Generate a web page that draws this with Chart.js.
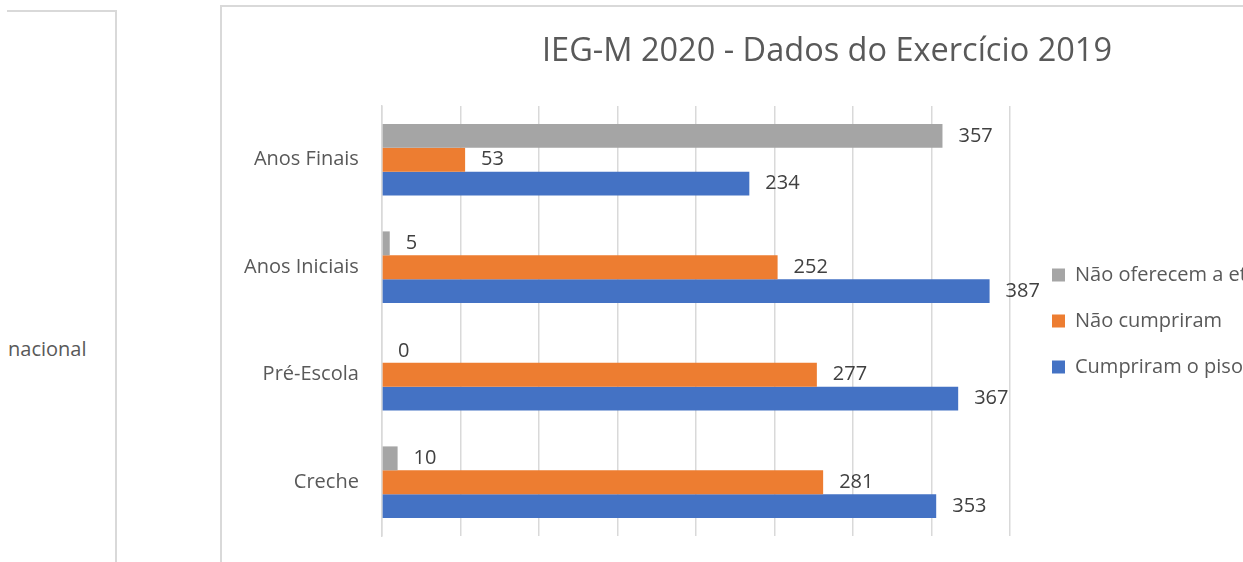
<!DOCTYPE html>
<html>
<head>
<meta charset="utf-8">
<title>IEG-M 2020 - Dados do Exercício 2019</title>
<script src="https://cdn.jsdelivr.net/npm/chart.js@4.4.1/dist/chart.umd.min.js"></script>
<style>
  html, body { margin: 0; padding: 0; background: #fff; overflow: hidden; width: 1243px; height: 562px; }
  #side { position: absolute; left: 7px; top: 10px; width: 108px; height: 600px; border-top: 2px solid #d9d9d9; border-right: 2px solid #d9d9d9; }
  #side span { position: absolute; left: 1px; top: 323px; font: 20px "Open Sans"; color: #595959; }
  #frame { position: absolute; left: 220px; top: 5px; width: 1300px; height: 700px; border-left: 2px solid #d9d9d9; border-top: 2px solid #d9d9d9; }
  #box { position: absolute; left: 200px; top: 7px; width: 1233px; height: 600px; }
</style>
</head>
<body>
<div id="side"><span>nacional</span></div>
<div id="frame"></div>
<div id="box"><canvas id="chart-area"></canvas></div>
<script>
// categories, top to bottom
const categories = ['Anos Finais', 'Anos Iniciais', 'Pré-Escola', 'Creche'];
const seriesNames = ['Não oferecem a etapa de ensino', 'Não cumpriram', 'Cumpriram o piso salarial profissional nacional'];
const naoOferecem = [357, 5, 0, 10];
const naoCumpriram = [53, 252, 277, 281];
const cumpriram = [234, 387, 367, 353];
const xMax = 400;
const xStep = 50;

Chart.defaults.font.family = '"Open Sans"';

// numbers at the end of each bar (Excel "outside end")
const valueLabels = {
  id: 'valueLabels',
  afterDatasetsDraw(chart) {
    let ctx = chart.ctx;
    ctx.save();
    ctx.font = '20px "Open Sans"';
    ctx.fillStyle = '#404040';
    ctx.textAlign = 'left';
    ctx.textBaseline = 'middle';
    chart.data.datasets.forEach((ds, i) => {
      chart.getDatasetMeta(i).data.forEach((bar, j) => {
        ctx.fillText(ds.data[j], bar.x + 16, bar.y);
      });
    });
    ctx.restore();
  }
};

window.onload = function() {
  let ctx = document.getElementById('chart-area').getContext('2d');
  let barChart = new Chart(ctx, {
    type: 'bar',
    data: {
      labels: categories,
      datasets: [
        { label: seriesNames[0], data: naoOferecem, backgroundColor: '#a5a5a5' },
        { label: seriesNames[1], data: naoCumpriram, backgroundColor: '#ed7d31' },
        { label: seriesNames[2], data: cumpriram, backgroundColor: '#4472c4' }
      ]
    },
    plugins: [valueLabels],
    options: {
      indexAxis: 'y',
      responsive: true,
      maintainAspectRatio: false,
      animation: false,
      layout: { padding: { left: 21, right: 0, top: 0, bottom: 71 } },
      datasets: { bar: { barPercentage: 1, categoryPercentage: 0.667 } },
      scales: {
        x: {
          min: 0,
          max: xMax,
          ticks: { display: false, stepSize: xStep },
          grid: { color: '#d9d9d9', lineWidth: 1.5, drawTicks: false },
          border: { display: false }
        },
        y: {
          ticks: { color: '#595959', font: { size: 20 }, padding: 23 },
          grid: { display: false, drawTicks: false },
          border: { color: '#d9d9d9', width: 1.5 }
        },
        gap: {
          type: 'category',
          position: 'right',
          ticks: { display: false },
          grid: { display: false, drawTicks: false },
          border: { display: false },
          afterFit: function(scale) { scale.width = 16; }
        }
      },
      plugins: {
        title: {
          display: true,
          text: 'IEG-M 2020 - Dados do Exercício 2019',
          color: '#595959',
          font: { size: 32.5, weight: 'normal' },
          padding: { top: 25, bottom: 35 }
        },
        legend: {
          position: 'right',
          fullSize: false,
          maxWidth: 407,
          labels: {
            boxWidth: 13,
            boxHeight: 13,
            padding: 26,
            color: '#595959',
            font: { size: 20 }
          }
        },
        tooltip: { enabled: false }
      }
    }
  });
};
</script>
</body>
</html>
